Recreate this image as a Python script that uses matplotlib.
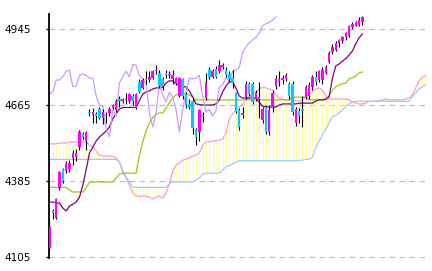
import numpy as np
import matplotlib.pyplot as plt

# daily candles (open / high / low / close)
opens = [4138, 4275, 4250, 4360, 4430, 4425, 4432, 4470, 4475, 4510,
         4558, 4535, 4642, 4630, 4632, 4650, 4620, 4625, 4635, 4655,
         4648, 4688, 4680, 4685, 4680, 4698, 4656, 4752, 4728, 4762,
         4758, 4765, 4790, 4785, 4760, 4785, 4775, 4760, 4745, 4700,
         4760, 4705, 4668, 4680, 4575, 4565, 4630, 4692, 4795, 4770,
         4800, 4790, 4805, 4795, 4780, 4765, 4710, 4648, 4630, 4695,
         4745, 4745, 4690, 4690, 4611, 4660, 4567, 4660, 4735, 4755,
         4758, 4760, 4745, 4745, 4600, 4645, 4650, 4695, 4700, 4733,
         4770, 4758, 4758, 4785, 4825, 4860, 4870, 4895, 4900, 4918,
         4920, 4952, 4958, 4962, 4972]
highs = [4250, 4282, 4325, 4425, 4435, 4460, 4465, 4500, 4505, 4575,
         4565, 4570, 4650, 4655, 4640, 4660, 4650, 4640, 4660, 4670,
         4690, 4700, 4692, 4710, 4710, 4705, 4710, 4760, 4765, 4790,
         4790, 4795, 4815, 4795, 4770, 4795, 4790, 4795, 4770, 4770,
         4765, 4715, 4690, 4690, 4580, 4650, 4640, 4785, 4805, 4800,
         4810, 4830, 4820, 4805, 4790, 4795, 4715, 4655, 4660, 4755,
         4750, 4750, 4720, 4750, 4660, 4665, 4665, 4720, 4775, 4790,
         4775, 4785, 4750, 4755, 4660, 4655, 4700, 4740, 4750, 4775,
         4790, 4795, 4805, 4815, 4865, 4890, 4900, 4910, 4920, 4935,
         4962, 4970, 4975, 4990, 4995]
lows = [4130, 4245, 4245, 4355, 4380, 4415, 4420, 4445, 4460, 4500,
        4540, 4500, 4625, 4600, 4600, 4615, 4595, 4600, 4625, 4650,
        4640, 4660, 4675, 4668, 4675, 4665, 4650, 4710, 4725, 4745,
        4750, 4760, 4780, 4730, 4720, 4765, 4765, 4745, 4740, 4695,
        4690, 4655, 4650, 4560, 4520, 4535, 4605, 4685, 4760, 4765,
        4765, 4785, 4800, 4770, 4750, 4730, 4635, 4575, 4620, 4690,
        4700, 4670, 4680, 4620, 4600, 4560, 4555, 4640, 4725, 4735,
        4745, 4755, 4690, 4630, 4590, 4600, 4585, 4690, 4690, 4720,
        4740, 4750, 4745, 4780, 4820, 4855, 4865, 4880, 4895, 4905,
        4915, 4945, 4955, 4955, 4960]
closes = [4218, 4268, 4320, 4420, 4385, 4450, 4452, 4490, 4490, 4568,
          4550, 4565, 4635, 4640, 4625, 4620, 4640, 4630, 4650, 4665,
          4680, 4682, 4688, 4690, 4705, 4680, 4706, 4715, 4758, 4758,
          4770, 4790, 4795, 4735, 4735, 4775, 4780, 4775, 4765, 4765,
          4700, 4665, 4660, 4580, 4550, 4648, 4625, 4748, 4770, 4790,
          4770, 4815, 4812, 4775, 4760, 4748, 4640, 4585, 4635, 4745,
          4705, 4678, 4712, 4695, 4650, 4567, 4648, 4712, 4765, 4762,
          4765, 4775, 4700, 4640, 4650, 4625, 4645, 4732, 4740, 4768,
          4752, 4790, 4795, 4805, 4858, 4880, 4895, 4905, 4915, 4930,
          4958, 4965, 4970, 4978, 4990]

# conversion line (tenkan) and base line (kijun)
tenkan = [4309, 4309, 4307, 4305, 4287, 4276, 4294, 4301, 4309, 4327,
          4371, 4427, 4489, 4511, 4533, 4548, 4559, 4570, 4585, 4615,
          4633, 4651, 4657, 4657, 4657, 4657, 4657, 4681, 4707, 4714,
          4718, 4725, 4729, 4729, 4732, 4747, 4755, 4755, 4744, 4740,
          4736, 4732, 4718, 4696, 4670, 4668, 4666, 4666, 4666, 4666,
          4670, 4685, 4714, 4736, 4751, 4751, 4729, 4699, 4692, 4692,
          4692, 4692, 4692, 4677, 4662, 4659, 4659, 4659, 4659, 4666,
          4670, 4670, 4670, 4670, 4670, 4673, 4673, 4673, 4673, 4673,
          4681, 4685, 4685, 4688, 4696, 4765, 4810, 4817, 4828, 4836,
          4850, 4865, 4891, 4913, 4928]
kijun = [4363, 4363, 4363, 4363, 4363, 4363, 4353, 4346, 4346, 4346,
         4346, 4360, 4382, 4383, 4383, 4383, 4383, 4383, 4383, 4383,
         4397, 4412, 4415, 4415, 4415, 4415, 4415, 4480, 4530, 4570,
         4600, 4620, 4633, 4637, 4637, 4655, 4674, 4692, 4703, 4707,
         4707, 4707, 4703, 4696, 4685, 4685, 4685, 4685, 4685, 4685,
         4685, 4685, 4685, 4685, 4685, 4685, 4685, 4685, 4685, 4685,
         4685, 4685, 4685, 4685, 4685, 4685, 4685, 4685, 4685, 4685,
         4685, 4685, 4685, 4695, 4695, 4695, 4695, 4695, 4685, 4685,
         4685, 4685, 4685, 4685, 4700, 4720, 4733, 4740, 4744, 4747,
         4762, 4766, 4773, 4784, 4788]

# leading spans (already shifted forward, 114 positions)
span_a = [4523, 4523, 4523, 4526, 4526, 4526, 4530, 4530, 4530, 4531,
          4531, 4530, 4519, 4511, 4496, 4482, 4478, 4478, 4478, 4478,
          4471, 4456, 4420, 4397, 4371, 4342, 4331, 4329, 4331, 4331,
          4327, 4320, 4327, 4331, 4323, 4342, 4375, 4423, 4445, 4452,
          4463, 4467, 4471, 4478, 4482, 4489, 4519, 4530, 4531, 4533,
          4535, 4537, 4541, 4563, 4615, 4633, 4648, 4659, 4670, 4685,
          4696, 4707, 4714, 4725, 4731, 4729, 4725, 4721, 4703, 4692,
          4688, 4685, 4685, 4685, 4681, 4681, 4685, 4696, 4707, 4714,
          4725, 4729, 4721, 4699, 4688, 4688, 4688, 4688, 4688, 4688,
          4685, 4677, 4673, 4670, 4670, 4673, 4679, 4679, 4681, 4681,
          4685, 4688, 4685, 4685, 4685, 4685, 4685, 4688, 4692, 4703,
          4729, 4755, 4769, 4773]
span_b = [4466, 4466, 4466, 4466, 4466, 4466, 4466, 4466, 4466, 4466,
          4466, 4466, 4466, 4466, 4466, 4466, 4466, 4466, 4466, 4466,
          4466, 4456, 4427, 4401, 4382, 4364, 4363, 4363, 4363, 4363,
          4363, 4363, 4363, 4363, 4363, 4363, 4375, 4383, 4383, 4383,
          4383, 4383, 4383, 4383, 4390, 4397, 4412, 4415, 4415, 4415,
          4415, 4415, 4427, 4438, 4443, 4449, 4456, 4461, 4461, 4461,
          4461, 4461, 4461, 4461, 4461, 4461, 4461, 4461, 4461, 4461,
          4461, 4461, 4461, 4461, 4461, 4461, 4463, 4466, 4466, 4474,
          4511, 4533, 4556, 4578, 4600, 4622, 4629, 4637, 4648, 4659,
          4670, 4677, 4680, 4680, 4680, 4680, 4680, 4680, 4680, 4680,
          4680, 4680, 4680, 4680, 4680, 4680, 4680, 4680, 4680, 4696,
          4710, 4725, 4733, 4740]

yticks = [4105, 4385, 4665, 4945]
lag = 26

o = np.array(opens)
h = np.array(highs)
l = np.array(lows)
c = np.array(closes)
x = np.arange(len(c))
xs = np.arange(len(span_a))
sa = np.array(span_a)
sb = np.array(span_b)

fig = plt.figure(figsize=(4.32, 2.71), dpi=100)
ax = fig.add_axes([48.5 / 432, 13 / 271, 378.5 / 432, 244 / 271])

# grid
for t in yticks:
    ax.axhline(t, color='#bbbbbb', lw=0.8, linestyle=(0, (5, 4)), zorder=0)

# cloud as thin yellow vertical lines
ax.vlines(xs, np.minimum(sa, sb), np.maximum(sa, sb), color='#ffff99', lw=0.8, zorder=1)
ax.plot(xs, sa, color='#ff99cc', lw=0.9, zorder=2)
ax.plot(xs, sb, color='#99ccff', lw=0.9, zorder=2)

ax.plot(x, kijun, color='#99cc00', lw=0.9, zorder=2)
ax.plot(x, tenkan, color='#800080', lw=0.9, zorder=2)
ax.plot(x[:len(c) - lag], c[lag:], color='#cc99ff', lw=0.9, zorder=2)

# candles
up = c >= o
ax.vlines(x, l, h, color='black', lw=0.8, zorder=3)
body = np.maximum(np.abs(c - o), 3)
ax.bar(x, body, bottom=np.minimum(o, c), width=0.75,
       color=np.where(up, '#ff00ff', '#00ccff'), zorder=4)

ax.set_xlim(-0.3, 113.4)
ax.set_ylim(4103, 5001)
ax.set_yticks(yticks)
ax.set_yticklabels([str(t) for t in yticks], fontsize=7.5)
ax.set_xticks([])
ax.tick_params(axis='y', length=2, width=1, pad=11, colors='black')

for s in ['top', 'right', 'bottom']:
    ax.spines[s].set_visible(False)
ax.spines['left'].set_linewidth(1.3)

fig.savefig('out.png', dpi=100)
